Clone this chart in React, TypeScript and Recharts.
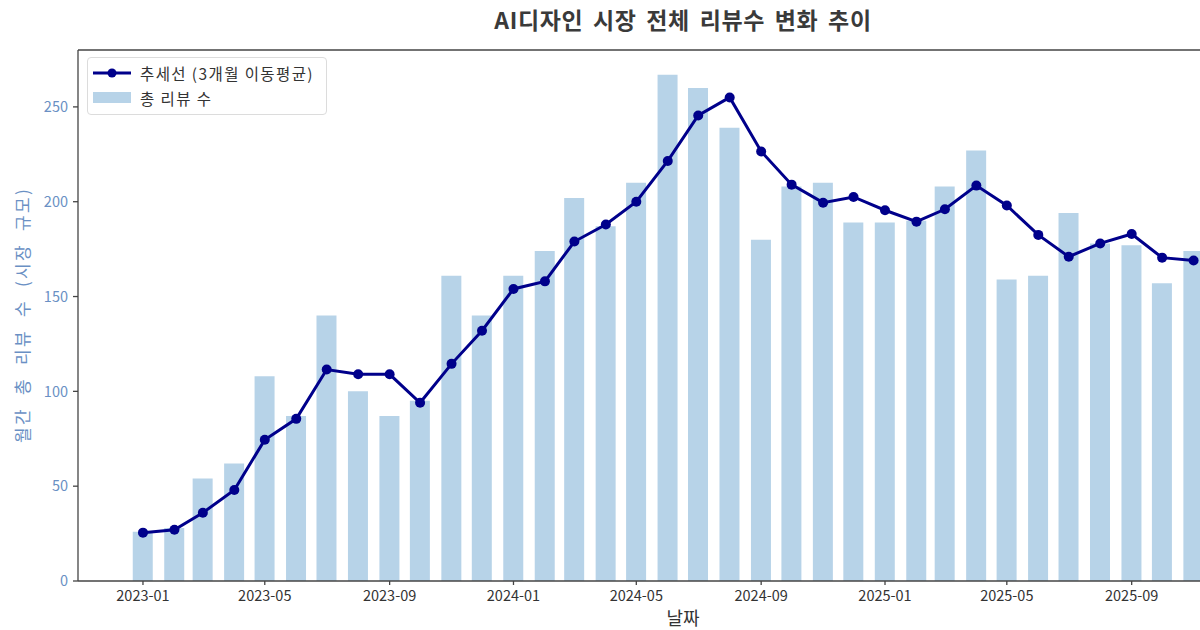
import React from 'react';
import { ComposedChart, Bar, Line, XAxis, YAxis, ReferenceLine } from 'recharts';

const months = [
  '2023-01', '2023-02', '2023-03', '2023-04', '2023-05', '2023-06',
  '2023-07', '2023-08', '2023-09', '2023-10', '2023-11', '2023-12',
  '2024-01', '2024-02', '2024-03', '2024-04', '2024-05', '2024-06',
  '2024-07', '2024-08', '2024-09', '2024-10', '2024-11', '2024-12',
  '2025-01', '2025-02', '2025-03', '2025-04', '2025-05', '2025-06',
  '2025-07', '2025-08', '2025-09', '2025-10', '2025-11',
];

const totalReviews = [
  26, 28, 54, 62, 108, 87, 140, 100, 87, 95, 161, 140,
  161, 174, 202, 187, 210, 267, 260, 239, 180, 208, 210, 189,
  189, 190, 208, 227, 159, 161, 194, 178, 177, 157, 174,
];

const trendMA3 = [
  25.5, 27, 36, 48, 74.5, 85.5, 111.5, 109, 109, 94, 114.5, 132,
  154, 158, 179, 188, 200, 221.5, 245.5, 255, 226.5, 209, 199.5, 202.5,
  195.5, 189.5, 196, 208.5, 198, 182.5, 171, 178, 183, 170.5, 169,
];

const yTicks = [0, 50, 100, 150, 200, 250];
const xTickLabels = [
  '2023-01', '2023-05', '2023-09', '2024-01', '2024-05',
  '2024-09', '2025-01', '2025-05', '2025-09',
];

const TITLE = 'AI디자인 시장 전체 리뷰수 변화 추이';
const X_LABEL = '날짜';
const Y_LABEL = '월간 총 리뷰 수 (시장 규모)';
const LINE_NAME = '추세선 (3개월 이동평균)';
const BAR_NAME = '총 리뷰 수';

const FONT = "'Noto Sans CJK KR', 'Noto Sans', sans-serif";
const NAVY = '#00008b';
const BAR_COLOR = '#b7d3e8';
const AXIS_COLOR = '#444444';
const Y_COLOR = '#6a90c4';

const toDay = (ym: string) => {
  const [y, m] = ym.split('-').map(Number);
  return Date.UTC(y, m - 1, 1) / 86400000;
};
const fromDay = (d: number) => {
  const dt = new Date(Math.round(d) * 86400000);
  return `${dt.getUTCFullYear()}-${String(dt.getUTCMonth() + 1).padStart(2, '0')}`;
};

const data = months.map((m, i) => ({
  day: toDay(m),
  total: totalReviews[i],
  trend: trendMA3[i],
}));

const firstDay = toDay(months[0]);
const xDomain: [number, number] = [firstDay - 64, firstDay + 1128];
const yDomain: [number, number] = [0, 280];

const LegendBox = () => (
  <div
    style={{
      position: 'absolute',
      left: 87,
      top: 57,
      width: 240,
      height: 58,
      boxSizing: 'border-box',
      border: '1px solid #dcdcdc',
      borderRadius: 4,
      background: 'rgba(255,255,255,0.85)',
      fontFamily: FONT,
      fontSize: 15.5,
      letterSpacing: 1.4,
      color: '#333',
    }}
  >
    <svg style={{ position: 'absolute', left: 4, top: 9 }} width={40} height={12}>
      <line x1={1} y1={6} x2={39} y2={6} stroke={NAVY} strokeWidth={3} />
      <circle cx={20} cy={6} r={4.5} fill={NAVY} />
    </svg>
    <span style={{ position: 'absolute', left: 52, top: 5, lineHeight: '20px', whiteSpace: 'nowrap' }}>
      {LINE_NAME}
    </span>
    <div style={{ position: 'absolute', left: 5, top: 34, width: 38, height: 11, background: BAR_COLOR }} />
    <span style={{ position: 'absolute', left: 52, top: 30, lineHeight: '20px', whiteSpace: 'nowrap' }}>
      {BAR_NAME}
    </span>
  </div>
);

export default function App() {
  return (
    <div
      style={{
        position: 'absolute',
        left: 0,
        top: 0,
        width: 1200,
        height: 630,
        overflow: 'hidden',
        background: '#ffffff',
        fontFamily: FONT,
      }}
    >
      <div
        style={{
          position: 'absolute',
          left: 0,
          top: 5,
          width: 1366,
          textAlign: 'center',
          fontSize: 23,
          lineHeight: '28px',
          fontWeight: 'bold',
          letterSpacing: 0.6,
          wordSpacing: 4,
          color: '#3a3a3a',
          whiteSpace: 'nowrap',
        }}
      >
        {TITLE}
      </div>
      <ComposedChart
        width={1300}
        height={630}
        data={data}
        margin={{ top: 50, right: 12, bottom: 0, left: 0 }}
        style={{ position: 'absolute', left: 0, top: 0 }}
      >
        <XAxis
          dataKey="day"
          type="number"
          domain={xDomain}
          allowDataOverflow
          ticks={xTickLabels.map(toDay)}
          tickFormatter={fromDay}
          interval={0}
          height={49}
          stroke={AXIS_COLOR}
          strokeWidth={1.3}
          tickSize={4}
          tickMargin={6}
          tick={{ fill: '#333', fontSize: 14.5, fontFamily: FONT }}
        />
        <YAxis
          type="number"
          domain={yDomain}
          ticks={yTicks}
          width={78}
          stroke={AXIS_COLOR}
          strokeWidth={1.3}
          tickSize={5}
          tickMargin={5}
          tick={{ fill: Y_COLOR, fontSize: 14.5, fontFamily: FONT }}
        />
        <ReferenceLine y={280} stroke={AXIS_COLOR} strokeWidth={1.3} />
        <Bar
          dataKey="total"
          name={BAR_NAME}
          fill={BAR_COLOR}
          barSize={20}
          isAnimationActive={false}
        />
        <Line
          dataKey="trend"
          name={LINE_NAME}
          stroke={NAVY}
          strokeWidth={3}
          dot={{ r: 5, fill: NAVY, stroke: NAVY, strokeWidth: 0 }}
          activeDot={false}
          isAnimationActive={false}
        />
      </ComposedChart>
      <LegendBox />
      <div
        style={{
          position: 'absolute',
          left: 0,
          top: 605,
          width: 1366,
          textAlign: 'center',
          fontSize: 18,
          lineHeight: '24px',
          color: '#333',
        }}
      >
        {X_LABEL}
      </div>
      <div
        style={{
          position: 'absolute',
          left: 22,
          top: 315,
          transform: 'translate(-50%, -50%) rotate(-90deg)',
          fontSize: 17,
          lineHeight: '20px',
          letterSpacing: 2.3,
          wordSpacing: 6,
          color: Y_COLOR,
          whiteSpace: 'nowrap',
        }}
      >
        {Y_LABEL}
      </div>
    </div>
  );
}
